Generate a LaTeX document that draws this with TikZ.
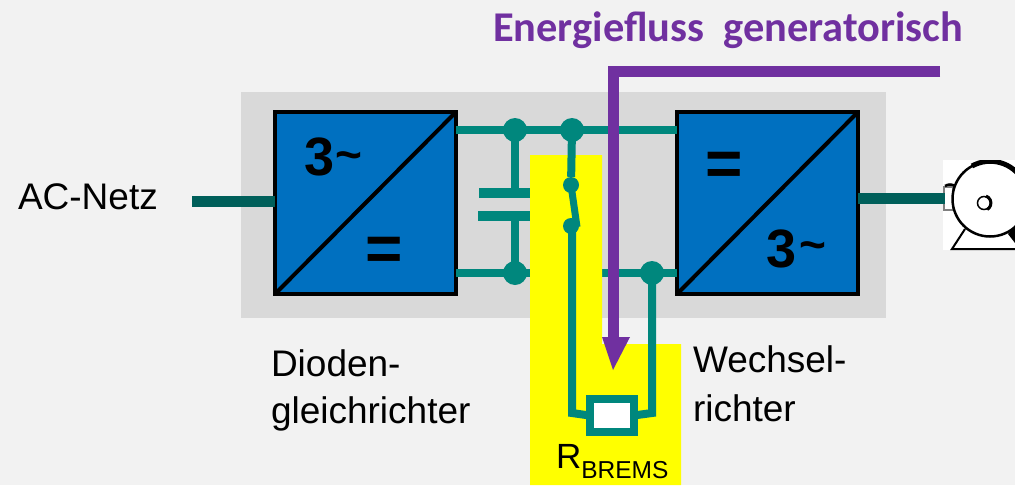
\documentclass[tikz,border=0pt]{standalone}
\usepackage{fontspec}
\setmainfont{Liberation Sans}
\newfontfamily\titlefont{Carlito}
\usetikzlibrary{calc}
\definecolor{bgc}{HTML}{F2F2F2}
\definecolor{panelc}{HTML}{D9D9D9}
\definecolor{tealc}{HTML}{00877D}
\definecolor{darkteal}{HTML}{005F5A}
\definecolor{bluec}{HTML}{0070C0}
\definecolor{purplec}{HTML}{7030A0}
\definecolor{yellowc}{HTML}{FFFF00}
\tikzset{
  wire/.style={draw=tealc,line width=8pt},
  plate/.style={draw=tealc,line width=10pt},
  feed/.style={draw=darkteal,line width=11pt},
  conv/.style={draw=black,line width=4pt,fill=bluec,minimum width=181pt,minimum height=182pt,inner sep=0pt,outer sep=0pt},
  dotbig/.style={circle,fill=tealc,minimum size=24pt,inner sep=0pt},
  dotsmall/.style={circle,fill=tealc,minimum size=16pt,inner sep=0pt},
  lbl/.style={inner sep=0pt,outer sep=0pt,font=\fontsize{37}{44}\selectfont,align=left},
  sym/.style={inner sep=0pt,outer sep=0pt,font=\fontsize{54}{54}\selectfont\bfseries},
  eqsym/.style={inner sep=0pt,outer sep=0pt,font=\fontsize{64}{64}\selectfont\bfseries},
  tilde/.style={inner sep=0pt,outer sep=0pt,font=\fontsize{46}{46}\selectfont\bfseries},
  flow/.style={draw=purplec,line width=11pt}
}
\begin{document}
\begin{tikzpicture}[x=1pt,y=-1pt]
\useasboundingbox (0,0) rectangle (1015,485);
\fill[bgc] (0,0) rectangle (1015,485);
\fill[panelc] (241,92) rectangle (886,318);
% motor picture
\begin{scope}
\clip (943,160) rectangle (1015,250);
\fill[white] (943,160) rectangle (1015,250);
\draw[gray,line width=1.5pt,fill=white] (944,187) rectangle (953,210);
\draw[black,line width=2.5pt] (945,186) .. controls (948,184) and (952,184) .. (955,186);
\draw[black,line width=2.5pt] (990,199) circle (37.5);
\draw[black,line width=5pt] (972,166) arc (241:360:37.5);
\draw[black,line width=2pt] (965,229) -- (952,249) -- (1015,249);
\draw[black,line width=1.5pt] (984,203) circle (6.5);
\draw[black,line width=3pt] (986,196) arc (-70:60:7.5);
\fill[black] (1015,226) -- (1008,234) -- (1015,243) -- cycle;
\end{scope}
% nodes
\node[conv] (dc) at (365.5,203) {};
\node[conv] (wr) at (767.5,203) {};
\coordinate (feedL) at (192,201);
\coordinate (feedR) at (945,198);
\coordinate (topA) at (515,130);
\coordinate (topB) at (572,130);
\coordinate (botA) at (515,273);
\coordinate (botB) at (652,273);
\coordinate (capT) at (515,193);
\coordinate (capB) at (515,216);
% base wiring
\draw[feed] (feedL) -- (feedL -| dc.west);
\draw[feed] (wr.east |- feedR) -- (feedR);
\draw[wire] (dc.east |- topA) -- (wr.west |- topA);
\draw[wire] (dc.east |- botA) -- (wr.west |- botA);
\draw[wire] (topA) -- (capT);
\draw[wire] (botA) -- (capB);
\draw[plate] (479,193) -- (535,193);
\draw[plate] (478,216) -- (535,216);
\node[dotbig] at (topA) {};
\node[dotbig] at (botA) {};
% yellow field
\fill[yellowc] (530,155) -- (602,155) -- (602,344) -- (681,344) -- (681,485) -- (530,485) -- cycle;
% brake branch
\node[dotbig] at (topB) {};
\node[dotbig] at (botB) {};
\node[dotsmall] (swA) at (571,185) {};
\node[dotsmall] (swB) at (571,226) {};
\node[draw=tealc,line width=8pt,fill=white,minimum width=44pt,minimum height=33pt,inner sep=0pt,outer sep=0pt] (rb) at (611.5,415.5) {};
\draw[draw=tealc,line width=8pt] (topB) -- (swA);
\draw[draw=tealc,line width=7pt] (swA.center) -- (577,227);
\draw[wire,miter limit=10] (572,226) -- (572,413) -- (rb.west);
\draw[wire,miter limit=10] (botB) -- (652,413) -- (rb.east);
% energy flow
\draw[flow,miter limit=10] (940,71) -- (613.5,71) -- (613.5,338);
\fill[purplec] (602,337) -- (630,337) -- (613,370) -- cycle;
% symbols
\node[sym] at (319.5,157) {3};
\node[tilde] at (349,161) {\char"007E};
\node[eqsym] at (384.5,254) {=};
\node[eqsym] at (724.5,169) {=};
\node[sym] at (782,249) {3};
\node[tilde] at (813,251) {\char"007E};
% diagonals
\draw[black,line width=4pt] (dc.south west) -- (dc.north east);
\draw[black,line width=4pt] (wr.south west) -- (wr.north east);
% labels
\node[lbl,anchor=base west] at (18,209) {AC-Netz};
\node[lbl,anchor=base west] at (271,376) {Dioden-};
\node[lbl,anchor=base west] at (271,423) {gleichrichter};
\node[lbl,anchor=base west] at (693,372) {Wechsel-};
\node[lbl,anchor=base west] at (693,421) {richter};
\node[inner sep=0pt,outer sep=0pt,anchor=base west,font=\fontsize{35}{40}\selectfont] at (556,468) {R\raisebox{-10pt}{\fontsize{24.5}{25}\selectfont BREMS}};
\node[inner sep=0,anchor=base west,text=purplec,font=\fontsize{42.4}{44}\selectfont\titlefont\bfseries] at (493,41) {Energiefluss\ \ generatorisch};
\end{tikzpicture}
\end{document}
